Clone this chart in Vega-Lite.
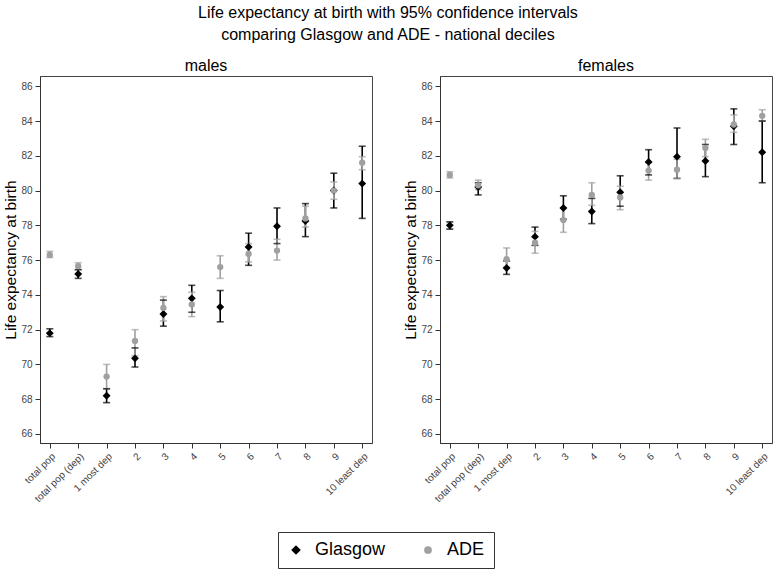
{
  "$schema": "https://vega.github.io/schema/vega-lite/v6.json",
  "padding": {"left": 3, "top": 4, "right": 2, "bottom": 2},
  "background": "white",
  "title": {
    "text": ["Life expectancy at birth with 95% confidence intervals", "comparing Glasgow and ADE - national deciles"],
    "fontSize": 16, "fontWeight": "normal", "lineHeight": 22, "anchor": "middle", "color": "#000", "offset": 15
  },
  "datasets": {
    "le": [
      {"sex": "males", "cat": "total pop", "group": "Glasgow", "le": 71.8, "lo": 71.6, "hi": 72.05},
      {"sex": "males", "cat": "total pop (dep)", "group": "Glasgow", "le": 75.2, "lo": 74.95, "hi": 75.45},
      {"sex": "males", "cat": "1 most dep", "group": "Glasgow", "le": 68.2, "lo": 67.8, "hi": 68.6},
      {"sex": "males", "cat": "2", "group": "Glasgow", "le": 70.35, "lo": 69.85, "hi": 70.95},
      {"sex": "males", "cat": "3", "group": "Glasgow", "le": 72.9, "lo": 72.2, "hi": 73.7},
      {"sex": "males", "cat": "4", "group": "Glasgow", "le": 73.8, "lo": 73.0, "hi": 74.55},
      {"sex": "males", "cat": "5", "group": "Glasgow", "le": 73.3, "lo": 72.45, "hi": 74.25},
      {"sex": "males", "cat": "6", "group": "Glasgow", "le": 76.75, "lo": 75.7, "hi": 77.55},
      {"sex": "males", "cat": "7", "group": "Glasgow", "le": 77.95, "lo": 76.95, "hi": 79.0},
      {"sex": "males", "cat": "8", "group": "Glasgow", "le": 78.25, "lo": 77.35, "hi": 79.25},
      {"sex": "males", "cat": "9", "group": "Glasgow", "le": 80.0, "lo": 79.0, "hi": 81.0},
      {"sex": "males", "cat": "10 least dep", "group": "Glasgow", "le": 80.4, "lo": 78.4, "hi": 82.55},
      {"sex": "females", "cat": "total pop", "group": "Glasgow", "le": 78.0, "lo": 77.78, "hi": 78.2},
      {"sex": "females", "cat": "total pop (dep)", "group": "Glasgow", "le": 80.2, "lo": 79.75, "hi": 80.45},
      {"sex": "females", "cat": "1 most dep", "group": "Glasgow", "le": 75.55, "lo": 75.18, "hi": 75.95},
      {"sex": "females", "cat": "2", "group": "Glasgow", "le": 77.35, "lo": 76.85, "hi": 77.9},
      {"sex": "females", "cat": "3", "group": "Glasgow", "le": 79.0, "lo": 78.35, "hi": 79.7},
      {"sex": "females", "cat": "4", "group": "Glasgow", "le": 78.8, "lo": 78.1, "hi": 79.55},
      {"sex": "females", "cat": "5", "group": "Glasgow", "le": 79.9, "lo": 79.1, "hi": 80.85},
      {"sex": "females", "cat": "6", "group": "Glasgow", "le": 81.65, "lo": 80.9, "hi": 82.35},
      {"sex": "females", "cat": "7", "group": "Glasgow", "le": 81.95, "lo": 80.7, "hi": 83.6},
      {"sex": "females", "cat": "8", "group": "Glasgow", "le": 81.7, "lo": 80.8, "hi": 82.65},
      {"sex": "females", "cat": "9", "group": "Glasgow", "le": 83.7, "lo": 82.65, "hi": 84.7},
      {"sex": "females", "cat": "10 least dep", "group": "Glasgow", "le": 82.2, "lo": 80.45, "hi": 84.0},
      {"sex": "males", "cat": "total pop", "group": "ADE", "le": 76.3, "lo": 76.15, "hi": 76.5},
      {"sex": "males", "cat": "total pop (dep)", "group": "ADE", "le": 75.65, "lo": 75.45, "hi": 75.85},
      {"sex": "males", "cat": "1 most dep", "group": "ADE", "le": 69.3, "lo": 68.6, "hi": 70.0},
      {"sex": "males", "cat": "2", "group": "ADE", "le": 71.35, "lo": 70.5, "hi": 72.0},
      {"sex": "males", "cat": "3", "group": "ADE", "le": 73.25, "lo": 72.5, "hi": 73.9},
      {"sex": "males", "cat": "4", "group": "ADE", "le": 73.45, "lo": 72.75, "hi": 74.15},
      {"sex": "males", "cat": "5", "group": "ADE", "le": 75.6, "lo": 74.95, "hi": 76.25},
      {"sex": "males", "cat": "6", "group": "ADE", "le": 76.35, "lo": 75.9, "hi": 76.95},
      {"sex": "males", "cat": "7", "group": "ADE", "le": 76.55, "lo": 76.0, "hi": 77.2},
      {"sex": "males", "cat": "8", "group": "ADE", "le": 78.4, "lo": 77.9, "hi": 79.1},
      {"sex": "males", "cat": "9", "group": "ADE", "le": 80.0, "lo": 79.5, "hi": 80.5},
      {"sex": "males", "cat": "10 least dep", "group": "ADE", "le": 81.6, "lo": 81.2, "hi": 81.95},
      {"sex": "females", "cat": "total pop", "group": "ADE", "le": 80.9, "lo": 80.72, "hi": 81.08},
      {"sex": "females", "cat": "total pop (dep)", "group": "ADE", "le": 80.3, "lo": 80.05, "hi": 80.6},
      {"sex": "females", "cat": "1 most dep", "group": "ADE", "le": 76.05, "lo": 75.6, "hi": 76.7},
      {"sex": "females", "cat": "2", "group": "ADE", "le": 77.0, "lo": 76.4, "hi": 77.65},
      {"sex": "females", "cat": "3", "group": "ADE", "le": 78.3, "lo": 77.6, "hi": 79.0},
      {"sex": "females", "cat": "4", "group": "ADE", "le": 79.75, "lo": 79.15, "hi": 80.45},
      {"sex": "females", "cat": "5", "group": "ADE", "le": 79.6, "lo": 78.9, "hi": 80.25},
      {"sex": "females", "cat": "6", "group": "ADE", "le": 81.15, "lo": 80.6, "hi": 81.6},
      {"sex": "females", "cat": "7", "group": "ADE", "le": 81.2, "lo": 80.7, "hi": 81.8},
      {"sex": "females", "cat": "8", "group": "ADE", "le": 82.45, "lo": 81.95, "hi": 82.95},
      {"sex": "females", "cat": "9", "group": "ADE", "le": 83.8, "lo": 83.35, "hi": 84.35},
      {"sex": "females", "cat": "10 least dep", "group": "ADE", "le": 84.3, "lo": 84.0, "hi": 84.65}
    ]
  },
  "data": {"name": "le"},
  "spacing": 30,
  "hconcat": [
    {
      "title": {"text": "males"},
      "width": 332, "height": 367,
      "transform": [{"filter": "datum.sex === 'males'"}],
      "encoding": {
        "x": {"field": "cat", "type": "ordinal", "sort": ["total pop", "total pop (dep)", "1 most dep", "2", "3", "4", "5", "6", "7", "8", "9", "10 least dep"],
              "scale": {"type": "point", "padding": 0.345}, "axis": {"title": null, "labelAngle": -45}},
        "color": {"field": "group", "type": "nominal", "title": null, "scale": {"domain": ["Glasgow", "ADE"], "range": ["#000000", "#a0a0a0"]}}
      },
      "layer": [
        {"mark": {"type": "rule", "strokeWidth": 1.6},
         "encoding": {"y": {"field": "lo", "type": "quantitative", "scale": {"domain": [65.48, 86.59], "nice": false, "zero": false},
                            "axis": {"title": "Life expectancy at birth", "values": [66, 68, 70, 72, 74, 76, 78, 80, 82, 84, 86], "labelOverlap": false}},
                      "y2": {"field": "hi"}}},
        {"mark": {"type": "tick", "size": 7, "thickness": 1.6}, "encoding": {"y": {"field": "lo", "type": "quantitative", "axis": {"title": "Life expectancy at birth", "values": [66, 68, 70, 72, 74, 76, 78, 80, 82, 84, 86], "labelOverlap": false}}}},
        {"mark": {"type": "tick", "size": 7, "thickness": 1.6}, "encoding": {"y": {"field": "hi", "type": "quantitative", "axis": {"title": "Life expectancy at birth", "values": [66, 68, 70, 72, 74, 76, 78, 80, 82, 84, 86], "labelOverlap": false}}}},
        {"mark": {"type": "point", "filled": true, "opacity": 1, "size": 40},
         "encoding": {"y": {"field": "le", "type": "quantitative", "axis": {"title": "Life expectancy at birth", "values": [66, 68, 70, 72, 74, 76, 78, 80, 82, 84, 86], "labelOverlap": false}},
                      "shape": {"field": "group", "type": "nominal", "title": null, "scale": {"domain": ["Glasgow", "ADE"], "range": ["M-1.25,0L0,-1.25L1.25,0L0,1.25Z", "circle"]}}}}
      ]
    },
    {
      "title": {"text": "females"},
      "width": 332, "height": 367,
      "transform": [{"filter": "datum.sex === 'females'"}],
      "encoding": {
        "x": {"field": "cat", "type": "ordinal", "sort": ["total pop", "total pop (dep)", "1 most dep", "2", "3", "4", "5", "6", "7", "8", "9", "10 least dep"],
              "scale": {"type": "point", "padding": 0.345}, "axis": {"title": null, "labelAngle": -45}},
        "color": {"field": "group", "type": "nominal", "title": null, "scale": {"domain": ["Glasgow", "ADE"], "range": ["#000000", "#a0a0a0"]}}
      },
      "layer": [
        {"mark": {"type": "rule", "strokeWidth": 1.6},
         "encoding": {"y": {"field": "lo", "type": "quantitative", "scale": {"domain": [65.48, 86.59], "nice": false, "zero": false},
                            "axis": {"title": "Life expectancy at birth", "values": [66, 68, 70, 72, 74, 76, 78, 80, 82, 84, 86], "labelOverlap": false}},
                      "y2": {"field": "hi"}}},
        {"mark": {"type": "tick", "size": 7, "thickness": 1.6}, "encoding": {"y": {"field": "lo", "type": "quantitative", "axis": {"title": "Life expectancy at birth", "values": [66, 68, 70, 72, 74, 76, 78, 80, 82, 84, 86], "labelOverlap": false}}}},
        {"mark": {"type": "tick", "size": 7, "thickness": 1.6}, "encoding": {"y": {"field": "hi", "type": "quantitative", "axis": {"title": "Life expectancy at birth", "values": [66, 68, 70, 72, 74, 76, 78, 80, 82, 84, 86], "labelOverlap": false}}}},
        {"mark": {"type": "point", "filled": true, "opacity": 1, "size": 40},
         "encoding": {"y": {"field": "le", "type": "quantitative", "axis": {"title": "Life expectancy at birth", "values": [66, 68, 70, 72, 74, 76, 78, 80, 82, 84, 86], "labelOverlap": false}},
                      "shape": {"field": "group", "type": "nominal", "title": null, "scale": {"domain": ["Glasgow", "ADE"], "range": ["M-1.25,0L0,-1.25L1.25,0L0,1.25Z", "circle"]}}}}
      ]
    }
  ],
  "config": {
    "font": "Liberation Sans",
    "view": {"stroke": "#444", "strokeWidth": 1},
    "axis": {"grid": false, "domainColor": "#333", "tickColor": "#333", "labelColor": "#444", "labelFontSize": 10,
             "tickSize": 5, "titleFontWeight": "normal", "titleColor": "#000", "titleFontSize": 15.5, "labelPadding": 3, "titlePadding": 2},
    "legend": {"orient": "none", "legendX": 238, "legendY": 456, "direction": "horizontal",
               "strokeColor": "#333", "padding": 9, "labelFontSize": 18, "labelColor": "#000", "symbolSize": 60,
               "columnPadding": 33, "labelOffset": 10, "symbolOpacity": 1, "symbolStrokeWidth": 0},
    "title": {"fontWeight": "normal", "fontSize": 16, "color": "#000", "offset": 2}
  }
}
